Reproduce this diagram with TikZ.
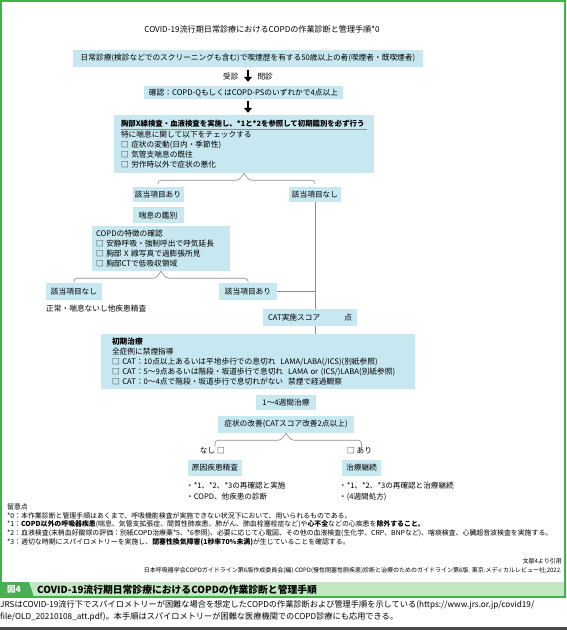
\documentclass[tikz,border=0pt]{standalone}
\usepackage{fontspec}
\setmainfont{Noto Sans CJK JP}
\usetikzlibrary{arrows.meta,positioning,calc}
\definecolor{boxblue}{HTML}{C7E8F1}
\definecolor{frmgreen}{HTML}{3CB54A}
\definecolor{bargreen}{HTML}{C3E7C0}
\definecolor{tabgreen}{HTML}{4BAE55}
\definecolor{lngray}{HTML}{8C8C8C}

\begin{document}
\begin{tikzpicture}[x=1pt,y=-1pt,font=\fontsize{7.7}{10}\selectfont,
 bx/.style={fill=boxblue,inner sep=0pt,minimum height=16pt},
 tbx/.style={fill=boxblue,align=left,inner ysep=0pt},
 brc/.style={draw=lngray,rounded corners=3pt,line width=0.6pt},
 conn/.style={draw=lngray,line width=0.6pt},
 bigarr/.style={-{Triangle[width=8pt,length=5pt]},line width=2.4pt},
 lab/.style={inner sep=1pt},
 note/.style={anchor=west,inner sep=0pt,font=\fontsize{6.9}{9}\selectfont}]
\useasboundingbox (0,0) rectangle (567,630);
% frame and caption bar
\fill[bargreen] (1,582) rectangle (565,597);
\fill[tabgreen] (1,582) -- (29,582) -- (34,597) -- (1,597) -- cycle;
\draw[frmgreen,line width=1.2pt] (1,1) rectangle (565,597);
\fill[black!70] (0,627) rectangle (567,630);

\node (title) at (262,29) {\fontsize{8.1}{10}\selectfont COVID-19流行期日常診療におけるCOPDの作業診断と管理手順*0};

% main flow
\node[bx,minimum width=350pt,minimum height=17pt] (smk) at (248,58.5) {日常診療(検診などでのスクリーニングも含む)で喫煙歴を有する50歳以上の者(喫煙者・既喫煙者)};
\node[bx,minimum width=199pt,minimum height=13pt] (chk) at (243.5,92.5) {確認：COPD-QもしくはCOPD-PSのいずれかで4点以上};
\node[tbx,text width=246pt,inner xsep=7pt,minimum height=58pt] (init) at (244,144) {{\fontsize{7.4}{10}\selectfont\textbf{胸部X線検査・血液検査を実施し、*1と*2を参照して初期鑑別を必ず行う}}\\[1pt]
特に喘息に関して以下をチェックする\\
□ 症状の変動(日内・季節性)\\
□ 気管支喘息の既往\\
□ 労作時以外で症状の悪化};
\draw[lngray,line width=0.5pt] ($(init.north west)+(7,14)$) -- ($(init.north east)+(-7,14)$);

\node[bx,minimum width=51pt,minimum height=15pt] (yes1) at (158,194.5) {該当項目あり};
\node[bx,minimum width=52pt,minimum height=15pt] (no1) at (315,194.5) {該当項目なし};
\node[bx,minimum width=51pt,below=5pt of yes1] (asth) {喘息の鑑別};
\node[tbx,text width=130pt,inner xsep=4pt,minimum height=45pt] (copd) at (161,248.5) {COPDの特徴の確認\\
□ 安静呼吸・強制呼出で呼気延長\\
□ 胸部 X 線写真で過膨張所見\\
□ 胸部CTで低吸収領域};
\node[bx,minimum width=56pt,minimum height=17pt] (no2) at (74,291.5) {該当項目なし};
\node[bx,minimum width=58pt,minimum height=17pt] (yes2) at (248,291.5) {該当項目あり};
\node[anchor=west,inner sep=0pt] (normal) at (46,308.5) {正常・喘息ないし他疾患精査};
\node[bx,minimum width=94pt,minimum height=17pt] (cat) at (310,317.5) {CAT実施スコア\hspace{24pt}点};
\node[tbx,text width=292pt,inner xsep=11pt,minimum height=55pt] (treat) at (258,361.5) {\textbf{初期治療}\\
全症例に禁煙指導\\
□ CAT：10点以上あるいは平地歩行での息切れ\hspace{5pt}LAMA/LABA(/ICS)(別紙参照)\\
□ CAT：5〜9点あるいは階段・坂道歩行で息切れ\hspace{5pt}LAMA or (ICS/)LABA(別紙参照)\\
□ CAT：0〜4点で階段・坂道歩行で息切れがない\hspace{5pt}禁煙で経過観察};
\node[bx,minimum width=60pt,minimum height=15pt] (wk) at (286,402.5) {1〜4週間治療};
\node[bx,minimum width=136pt,minimum height=17pt] (imp) at (286,424.5) {症状の改善(CATスコア改善2点以上)};
\node[lab,anchor=east] (nl) at (226,451) {なし □};
\node[lab,anchor=west] (al) at (346,451) {□ あり};
\node[bx,minimum width=54pt] (cause) at (215,468) {原因疾患精査};
\node[bx,minimum width=39pt] (cont) at (361.5,468) {治療継続};
\node[anchor=north west,align=left,inner sep=0pt,font=\fontsize{7.6}{11}\selectfont] (cnote) at (186,482) {・*1、*2、*3の再確認と実施\\・COPD、他疾患の診断};
\node[anchor=north west,align=left,inner sep=0pt,font=\fontsize{7.6}{11}\selectfont] (tnote) at (339,482) {・*1、*2、*3の再確認と治療継続\\・(4週間処方)};

% connectors
\draw[bigarr,shorten <=3pt,shorten >=4pt] (smk.south) -- node[left=5pt]{受診} node[right=5pt]{問診} (smk.south |- chk.north);
\draw[bigarr,shorten <=2pt,shorten >=2pt] (chk.south -| smk.south) -- (smk.south |- init.north);
\draw[brc] (init.south) -- ++(-5,7) -| ([yshift=3pt]yes1.north);
\draw[brc] (init.south) -- ++(5,7) -| ([yshift=3pt]no1.north);
\draw[brc] (copd.south) -- ++(-5,7) -| ([yshift=2pt]no2.north);
\draw[brc] (copd.south) -- ++(5,7) -| ([yshift=2pt]yes2.north);
\draw[brc] (imp.south) -- ++(-5,7) -| (cause |- nl.north);
\draw[brc] (imp.south) -- ++(5,7) -| (cont |- al.north);
\draw[conn] (no1.south) -- (no1.south |- cat.north);
\draw[conn] (no1.south |- cat.south) -- (no1.south |- treat.north);
\draw[conn] (yes2.east) -- (yes2.east -| no1.south);

% notes
\node[note] (nhead) at (7,507) {留意点};
\node[note] (n0) at (7,515.5) {*0：本作業診断と管理手順はあくまで、呼吸機能検査が実施できない状況下において、用いられるものである。};
\node[note] (n1) at (7,524.5) {*1：\textbf{COPD以外の呼吸器疾患}(喘息、気管支拡張症、間質性肺疾患、肺がん、肺血栓塞栓症など)や\textbf{心不全}などの心疾患を\textbf{除外すること。}};
\node[note] (n2) at (7,533.5) {*2：血液検査(末梢血好酸球の評価：別紙COPD治療薬*5、*6参照)、必要に応じて心電図、その他の血液検査(生化学、CRP、BNPなど)、喀痰検査、心臓超音波検査を実施する。};
\node[note] (n3) at (7,542.5) {*3：適切な時期にスパイロメトリーを実施し、\textbf{閉塞性換気障害(1秒率70\%未満)}が生じていることを確認する。};
\node[anchor=east,inner sep=0pt,font=\fontsize{6}{7}\selectfont] (src) at (562,561) {文献4より引用};
\node[anchor=east,inner sep=0pt,font=\fontsize{6}{7}\selectfont] (ref) at (562,571) {日本呼吸器学会COPDガイドライン第6版作成委員会(編).COPD(慢性閉塞性肺疾患)診断と治療のためのガイドライン第6版. 東京:メディカルレビュー社;2022.};

% caption
\node[anchor=west,inner sep=0pt,text=white,font=\bfseries\fontsize{8.5}{10}\selectfont] (fig) at (7,589.5) {図4};
\node[anchor=west,inner sep=0pt,font=\bfseries\fontsize{9.8}{11}\selectfont] (cap) at (37,589.5) {COVID-19流行期日常診療におけるCOPDの作業診断と管理手順};
\node[anchor=north west,align=left,inner sep=0pt,font=\fontsize{8.2}{12.5}\selectfont] (para) at (0,600) {JRSはCOVID-19流行下でスパイロメトリーが困難な場合を想定したCOPDの作業診断および管理手順を示している(https://www.jrs.or.jp/covid19/\\
file/OLD\_20210108\_att.pdf)。本手順はスパイロメトリーが困難な医療機関でのCOPD診療にも応用できる。};
\end{tikzpicture}
\end{document}
